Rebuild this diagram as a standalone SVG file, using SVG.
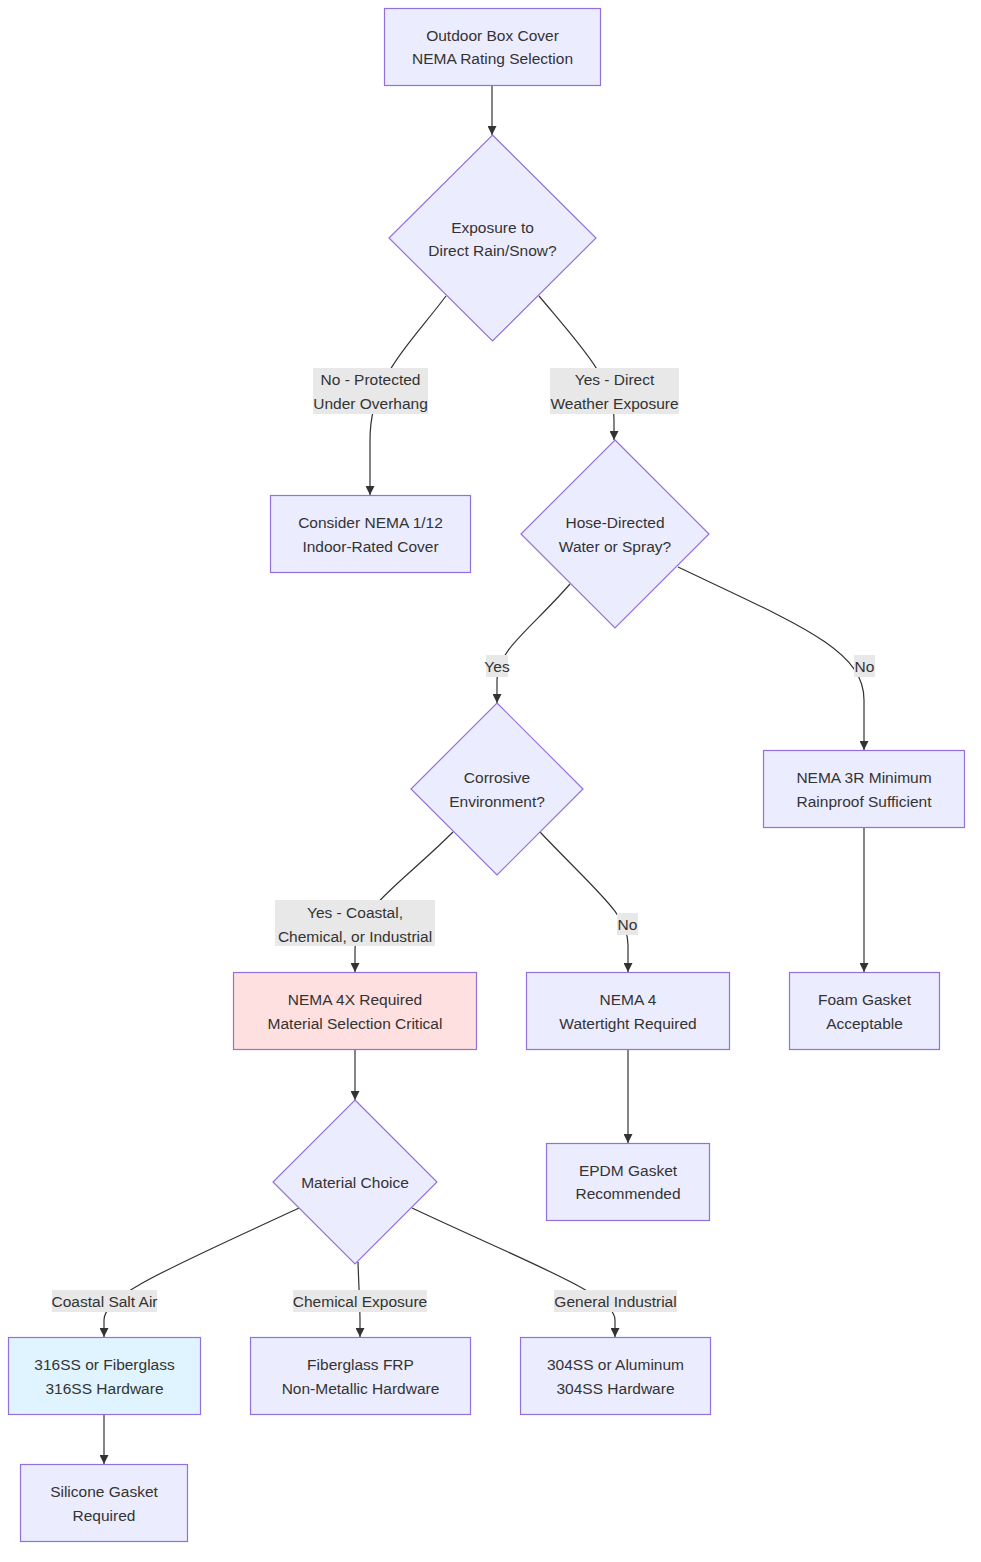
<svg xmlns="http://www.w3.org/2000/svg" width="981" height="1562" viewBox="0 0 981 1562">
<defs>
<marker id="arr" viewBox="0 0 10 10" refX="10" refY="5" markerUnits="userSpaceOnUse" markerWidth="9" markerHeight="9" orient="auto">
<path d="M0,0 L10,5 L0,10 z" fill="#333333"/>
</marker>
<style>
.n{fill:#ECECFF;stroke:#9370DB;stroke-width:1.2}
.red{fill:#FFE0E0}
.blue{fill:#E0F4FF}
.t{font-family:"Liberation Sans",Arial,sans-serif;font-size:15.5px;fill:#333333;text-anchor:middle;dominant-baseline:central}
.e{fill:none;stroke:#333333;stroke-width:1.2;marker-end:url(#arr)}
.lb{fill:#E8E8E8}
</style>
</defs>
<rect width="981" height="1562" fill="#FFFFFF"/>
<g id="connectors">
<path class="e" d="M492,85 L492,135"/>
<path class="e" d="M446,296 C405,350 370,380 370,440 L370,495"/>
<path class="e" d="M539,296 C580,345 614,380 614,420 L614,440"/>
<path class="e" d="M570,584 C530,630 497,650 497,680 L497,703"/>
<path class="e" d="M678,567 C800,625 864,650 864,700 L864,750"/>
<path class="e" d="M453,832 C400,885 355,910 355,950 L355,972"/>
<path class="e" d="M540,832 C600,895 628,915 628,945 L628,972"/>
<path class="e" d="M864,827 L864,972"/>
<path class="e" d="M628,1049 L628,1143"/>
<path class="e" d="M355,1049 L355,1100"/>
<path class="e" d="M299,1208 C170,1268 104,1295 104,1320 L104,1337"/>
<path class="e" d="M358,1262 C359,1290 360,1310 360,1320 L360,1337"/>
<path class="e" d="M412,1208 C540,1268 615,1295 615,1320 L615,1337"/>
<path class="e" d="M104,1414 L104,1464"/>
</g>
<g id="edge-labels">
<g id="lbl-no-protected"><rect class="lb" x="313" y="368" width="115" height="46"/><text class="t" x="370.5" y="379">No - Protected</text><text class="t" x="370.5" y="403">Under Overhang</text></g>
<g id="lbl-yes-direct"><rect class="lb" x="550" y="368" width="129" height="46"/><text class="t" x="614.5" y="379">Yes - Direct</text><text class="t" x="614.5" y="403">Weather Exposure</text></g>
<g id="lbl-yes"><rect class="lb" x="486" y="655" width="22" height="22"/><text class="t" x="497" y="666">Yes</text></g>
<g id="lbl-no"><rect class="lb" x="854" y="655" width="21" height="22"/><text class="t" x="864.5" y="666">No</text></g>
<g id="lbl-yes-coastal"><rect class="lb" x="275" y="900" width="160" height="46"/><text class="t" x="355" y="912">Yes - Coastal,</text><text class="t" x="355" y="936">Chemical, or Industrial</text></g>
<g id="lbl-no2"><rect class="lb" x="617" y="913" width="21" height="22"/><text class="t" x="627.5" y="924">No</text></g>
<g id="lbl-coastal"><rect class="lb" x="52" y="1290" width="105" height="22"/><text class="t" x="104.5" y="1301">Coastal Salt Air</text></g>
<g id="lbl-chemical"><rect class="lb" x="293" y="1290" width="134" height="22"/><text class="t" x="360" y="1301">Chemical Exposure</text></g>
<g id="lbl-general"><rect class="lb" x="554" y="1290" width="123" height="22"/><text class="t" x="615.5" y="1301">General Industrial</text></g>
</g>
<g id="start"><rect class="n" x="384.5" y="8.5" width="216" height="77"/><text class="t" x="492.5" y="35">Outdoor Box Cover</text><text class="t" x="492.5" y="58">NEMA Rating Selection</text></g>
<g id="d-exposure"><polygon class="n" points="492.5,135 596,238 492.5,341 389,238"/><text class="t" x="492.5" y="227">Exposure to</text><text class="t" x="492.5" y="250">Direct Rain/Snow?</text></g>
<g id="indoor"><rect class="n" x="270.5" y="495.5" width="200" height="77"/><text class="t" x="370.5" y="522">Consider NEMA 1/12</text><text class="t" x="370.5" y="546">Indoor-Rated Cover</text></g>
<g id="d-hose"><polygon class="n" points="615,440 709,534 615,628 521,534"/><text class="t" x="615" y="522">Hose-Directed</text><text class="t" x="615" y="546">Water or Spray?</text></g>
<g id="d-corrosive"><polygon class="n" points="497,703 583,789 497,875 411,789"/><text class="t" x="497" y="777">Corrosive</text><text class="t" x="497" y="801">Environment?</text></g>
<g id="nema3r"><rect class="n" x="763.5" y="750.5" width="201" height="77"/><text class="t" x="864" y="777">NEMA 3R Minimum</text><text class="t" x="864" y="801">Rainproof Sufficient</text></g>
<g id="nema4x"><rect class="n red" x="233.5" y="972.5" width="243" height="77"/><text class="t" x="355" y="999">NEMA 4X Required</text><text class="t" x="355" y="1023">Material Selection Critical</text></g>
<g id="nema4"><rect class="n" x="526.5" y="972.5" width="203" height="77"/><text class="t" x="628" y="999">NEMA 4</text><text class="t" x="628" y="1023">Watertight Required</text></g>
<g id="foam"><rect class="n" x="789.5" y="972.5" width="150" height="77"/><text class="t" x="864.5" y="999">Foam Gasket</text><text class="t" x="864.5" y="1023">Acceptable</text></g>
<g id="epdm"><rect class="n" x="546.5" y="1143.5" width="163" height="77"/><text class="t" x="628" y="1170">EPDM Gasket</text><text class="t" x="628" y="1193">Recommended</text></g>
<g id="d-material"><polygon class="n" points="355,1100 437,1182 355,1264 273,1182"/><text class="t" x="355" y="1182">Material Choice</text></g>
<g id="ss316"><rect class="n blue" x="8.5" y="1337.5" width="192" height="77"/><text class="t" x="104.5" y="1364">316SS or Fiberglass</text><text class="t" x="104.5" y="1388">316SS Hardware</text></g>
<g id="frp"><rect class="n" x="250.5" y="1337.5" width="220" height="77"/><text class="t" x="360.5" y="1364">Fiberglass FRP</text><text class="t" x="360.5" y="1388">Non-Metallic Hardware</text></g>
<g id="ss304"><rect class="n" x="520.5" y="1337.5" width="190" height="77"/><text class="t" x="615.5" y="1364">304SS or Aluminum</text><text class="t" x="615.5" y="1388">304SS Hardware</text></g>
<g id="silicone"><rect class="n" x="20.5" y="1464.5" width="167" height="77"/><text class="t" x="104" y="1491">Silicone Gasket</text><text class="t" x="104" y="1515">Required</text></g>
</svg>
